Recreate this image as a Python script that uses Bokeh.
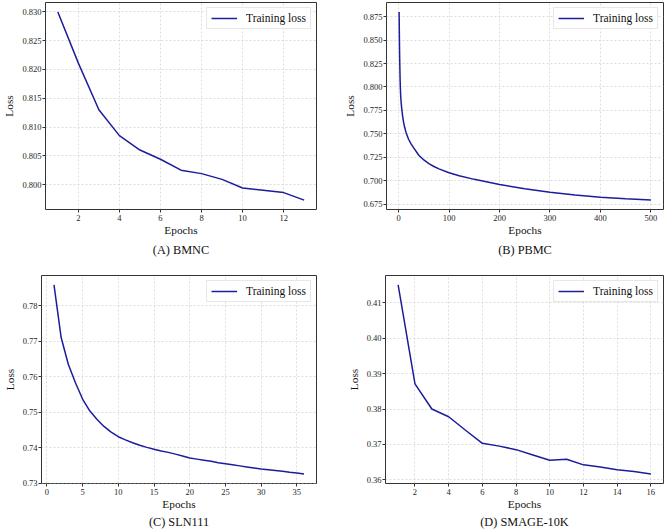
from bokeh.plotting import figure
from bokeh.models import Range1d, FixedTicker, PrintfTickFormatter, Title
from bokeh.layouts import row, column
from bokeh.embed import file_html
from bokeh.resources import INLINE

# ---------------- data ----------------
a_epochs = [1, 2, 3, 4, 5, 6, 7, 8, 9, 10, 11, 12, 13]
a_loss = [0.8300, 0.8211, 0.8130, 0.8085, 0.8060, 0.8044, 0.8025, 0.8019, 0.8009,
          0.7994, 0.7990, 0.7986, 0.7973]

b_epochs = [1, 2, 3, 4, 5, 6, 8, 10, 12, 15, 20, 25, 30, 40, 50, 60, 70, 80, 100,
            120, 150, 200, 250, 300, 350, 400, 450, 500]
b_loss = [0.880, 0.835, 0.808, 0.792, 0.784, 0.778, 0.769, 0.762, 0.757, 0.751,
          0.744, 0.739, 0.735, 0.7272, 0.7222, 0.7182, 0.7152, 0.7127, 0.7085,
          0.7053, 0.7015, 0.6960, 0.6915, 0.6878, 0.6848, 0.6824, 0.6807, 0.6794]

c_epochs = list(range(1, 37))
c_loss = [0.7858, 0.7710, 0.7635, 0.7583, 0.7537, 0.7504, 0.7480, 0.7460, 0.7444,
          0.7431, 0.7422, 0.7414, 0.7407, 0.7401, 0.7396, 0.7391, 0.7387, 0.7382,
          0.7377, 0.7371, 0.7368, 0.7365, 0.7362, 0.7358, 0.7355, 0.7352, 0.7349,
          0.7346, 0.7343, 0.7340, 0.7338, 0.7336, 0.7334, 0.7331, 0.7329, 0.7326]

d_epochs = list(range(1, 17))
d_loss = [0.4151, 0.3871, 0.3800, 0.3778, 0.3740, 0.3703, 0.3695, 0.3685, 0.3670,
          0.3655, 0.3658, 0.3642, 0.3636, 0.3628, 0.3623, 0.3616]

a_xticks = [2, 4, 6, 8, 10, 12]
a_yticks = [0.800, 0.805, 0.810, 0.815, 0.820, 0.825, 0.830]
b_xticks = [0, 100, 200, 300, 400, 500]
b_yticks = [0.675, 0.700, 0.725, 0.750, 0.775, 0.800, 0.825, 0.850, 0.875]
c_xticks = [0, 5, 10, 15, 20, 25, 30, 35]
c_yticks = [0.73, 0.74, 0.75, 0.76, 0.77, 0.78]
d_xticks = [2, 4, 6, 8, 10, 12, 14, 16]
d_yticks = [0.36, 0.37, 0.38, 0.39, 0.40, 0.41]

captions = ["(A) BMNC", "(B) PBMC", "(C) SLN111", "(D) SMAGE-10K"]
x_title = "Epochs"
y_title = "Loss"
series_name = "Training loss"

FONT = "Liberation Serif"
LINE_COLOR = "#1c1c9c"


def pad_range(vals):
    lo, hi = min(vals), max(vals)
    m = (hi - lo) * 0.05
    return Range1d(lo - m, hi + m)


def make_panel(xs, ys, xticks, yticks, yfmt, caption, width, height, borders,
               cap_standoff):
    left, right, top, bottom = borders
    p = figure(width=width, height=height, output_backend="svg",
               toolbar_location=None, x_range=pad_range(xs), y_range=pad_range(ys),
               min_border_left=left, min_border_right=right,
               min_border_top=top, min_border_bottom=bottom)
    p.line(xs, ys, line_color=LINE_COLOR, line_width=1.5, legend_label=series_name)

    p.background_fill_color = "white"
    p.border_fill_color = "white"
    p.outline_line_color = "#333333"
    p.outline_line_width = 1

    p.xaxis.ticker = FixedTicker(ticks=xticks)
    p.yaxis.ticker = FixedTicker(ticks=yticks)
    p.yaxis.formatter = PrintfTickFormatter(format=yfmt)
    for ax in (p.xaxis[0], p.yaxis[0]):
        ax.axis_line_color = None
        ax.major_tick_line_color = "#333333"
        ax.major_tick_out = 3
        ax.major_tick_in = 0
        ax.minor_tick_line_color = None
        ax.major_label_text_font = FONT
        ax.major_label_text_font_size = "8.5px"
        ax.major_label_text_color = "#262626"
        ax.axis_label_text_font = FONT
        ax.axis_label_text_font_size = "11.3px"
        ax.axis_label_text_font_style = "normal"
        ax.axis_label_text_color = "#111111"
    p.xaxis.major_label_standoff = 2
    p.yaxis.major_label_standoff = 1
    p.xaxis.axis_label_standoff = 0
    p.yaxis.axis_label_standoff = 4
    p.xaxis.axis_label = x_title
    p.yaxis.axis_label = y_title

    for g in (p.xgrid[0], p.ygrid[0]):
        g.grid_line_color = "#d4d4d4"
        g.grid_line_dash = "2 2"
        g.grid_line_width = 0.8

    leg = p.legend[0]
    leg.location = "top_right"
    leg.margin = 5
    leg.padding = 4
    leg.spacing = 0
    leg.glyph_width = 26
    leg.glyph_height = 12
    leg.label_height = 12
    leg.label_standoff = 9
    leg.label_text_font = FONT
    leg.label_text_font_size = "11.5px"
    leg.label_text_color = "#111111"
    leg.border_line_color = "#d0d0d0"
    leg.border_line_width = 1
    leg.background_fill_alpha = 0.85

    p.add_layout(Title(text=caption, align="center", text_font=FONT,
                       text_font_size="12.3px", text_font_style="normal",
                       text_color="#111111", standoff=cap_standoff), "below")
    return p


pa = make_panel(a_epochs, a_loss, a_xticks, a_yticks, "%.3f", captions[0],
                333, 265, (38, 17, 2, 56), 4)
pb = make_panel(b_epochs, b_loss, b_xticks, b_yticks, "%.3f", captions[1],
                333, 265, (53, 3, 2, 55), 4)
pc = make_panel(c_epochs, c_loss, c_xticks, c_yticks, "%.2f", captions[2],
                333, 266, (38, 17, 10, 48), 0)
pd = make_panel(d_epochs, d_loss, d_xticks, d_yticks, "%.2f", captions[3],
                333, 266, (52, 3, 10, 48), 0)

layout = column(row(pa, pb), row(pc, pd),
                styles={"position": "absolute", "left": "0px", "top": "0px"})

open("out.html", "w").write(file_html(layout, INLINE))
